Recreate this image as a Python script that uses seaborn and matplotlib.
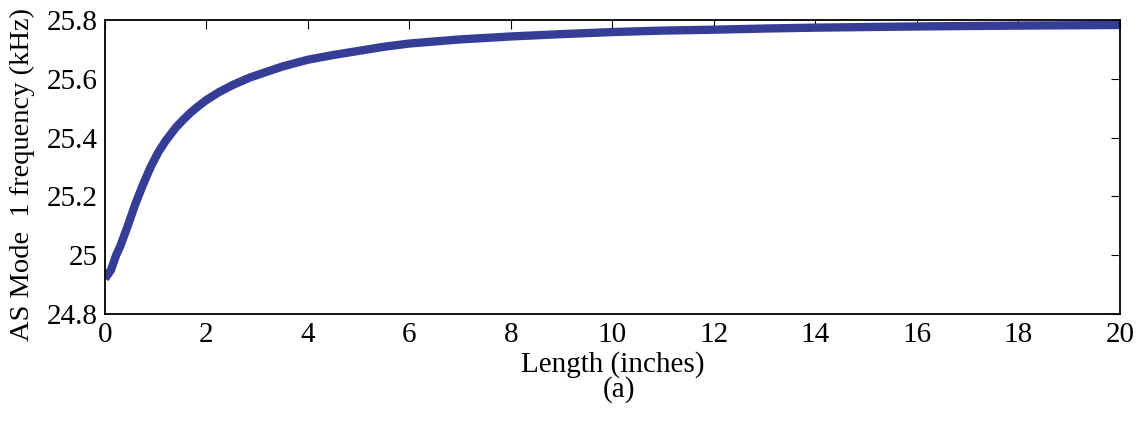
import matplotlib
matplotlib.use("Agg")
import matplotlib.pyplot as plt
import seaborn as sns
import pandas as pd

length_in = [0, 0.12, 0.22, 0.3, 0.45, 0.6, 0.75, 0.9, 1.05, 1.2, 1.4, 1.55, 1.7, 1.87,
             2.0, 2.25, 2.53, 2.85, 3.19, 3.5, 4.0, 4.5, 5.0, 5.5, 6, 7, 8, 9, 10, 11,
             12, 13, 14, 16, 18, 20]
freq_khz = [24.92, 24.95, 25.0, 25.03, 25.1, 25.175, 25.24, 25.30, 25.35, 25.39, 25.435,
            25.462, 25.487, 25.511, 25.528, 25.555, 25.58, 25.604, 25.624, 25.642, 25.665,
            25.681, 25.695, 25.709, 25.72, 25.734, 25.744, 25.752, 25.759, 25.764,
            25.767, 25.771, 25.774, 25.778, 25.781, 25.783]
xticks = [0, 2, 4, 6, 8, 10, 12, 14, 16, 18, 20]
yticks = [24.8, 25.0, 25.2, 25.4, 25.6, 25.8]
ytick_labels = ["24.8", "25", "25.2", "25.4", "25.6", "25.8"]

sns.set_theme(style="white")
plt.rcParams['font.family'] = ['Liberation Serif', 'DejaVu Serif']
plt.rcParams['text.color'] = 'black'
plt.rcParams['axes.labelcolor'] = 'black'

df = pd.DataFrame({"Length": length_in, "Freq": freq_khz})

fig = plt.figure(figsize=(11.46, 4.21), dpi=100)
ax = fig.add_axes([0.0916, 0.2542, 0.8857, 0.6983])
sns.lineplot(data=df, x="Length", y="Freq", ax=ax, color="#363d96", linewidth=6,
             solid_capstyle="butt")

ax.set_xlim(0, 20)
ax.set_ylim(24.8, 25.8)
ax.set_xticks(xticks)
ax.set_xticklabels([str(t) for t in xticks])
ax.set_yticks(yticks)
ax.set_yticklabels(ytick_labels)
ax.tick_params(direction="in", length=6.5, width=0.8, top=True, right=True,
               labelsize=21, colors="black", pad=6)
ax.tick_params(axis="y", pad=5)
for s in ax.spines.values():
    s.set_visible(True)
    s.set_color("black")
    s.set_linewidth(1.3)
ax.set_xlabel("Length (inches)", fontsize=21, labelpad=2, color="black")
ax.set_ylabel("AS Mode  1 frequency (kHz)", fontsize=20.5, color="black")
ax.yaxis.set_label_coords(-0.069, 0.475)
fig.text(0.5405, 0.074, "(a)", fontsize=21, ha="center", va="center", color="black")

fig.savefig("out.png", dpi=100, facecolor="white")
